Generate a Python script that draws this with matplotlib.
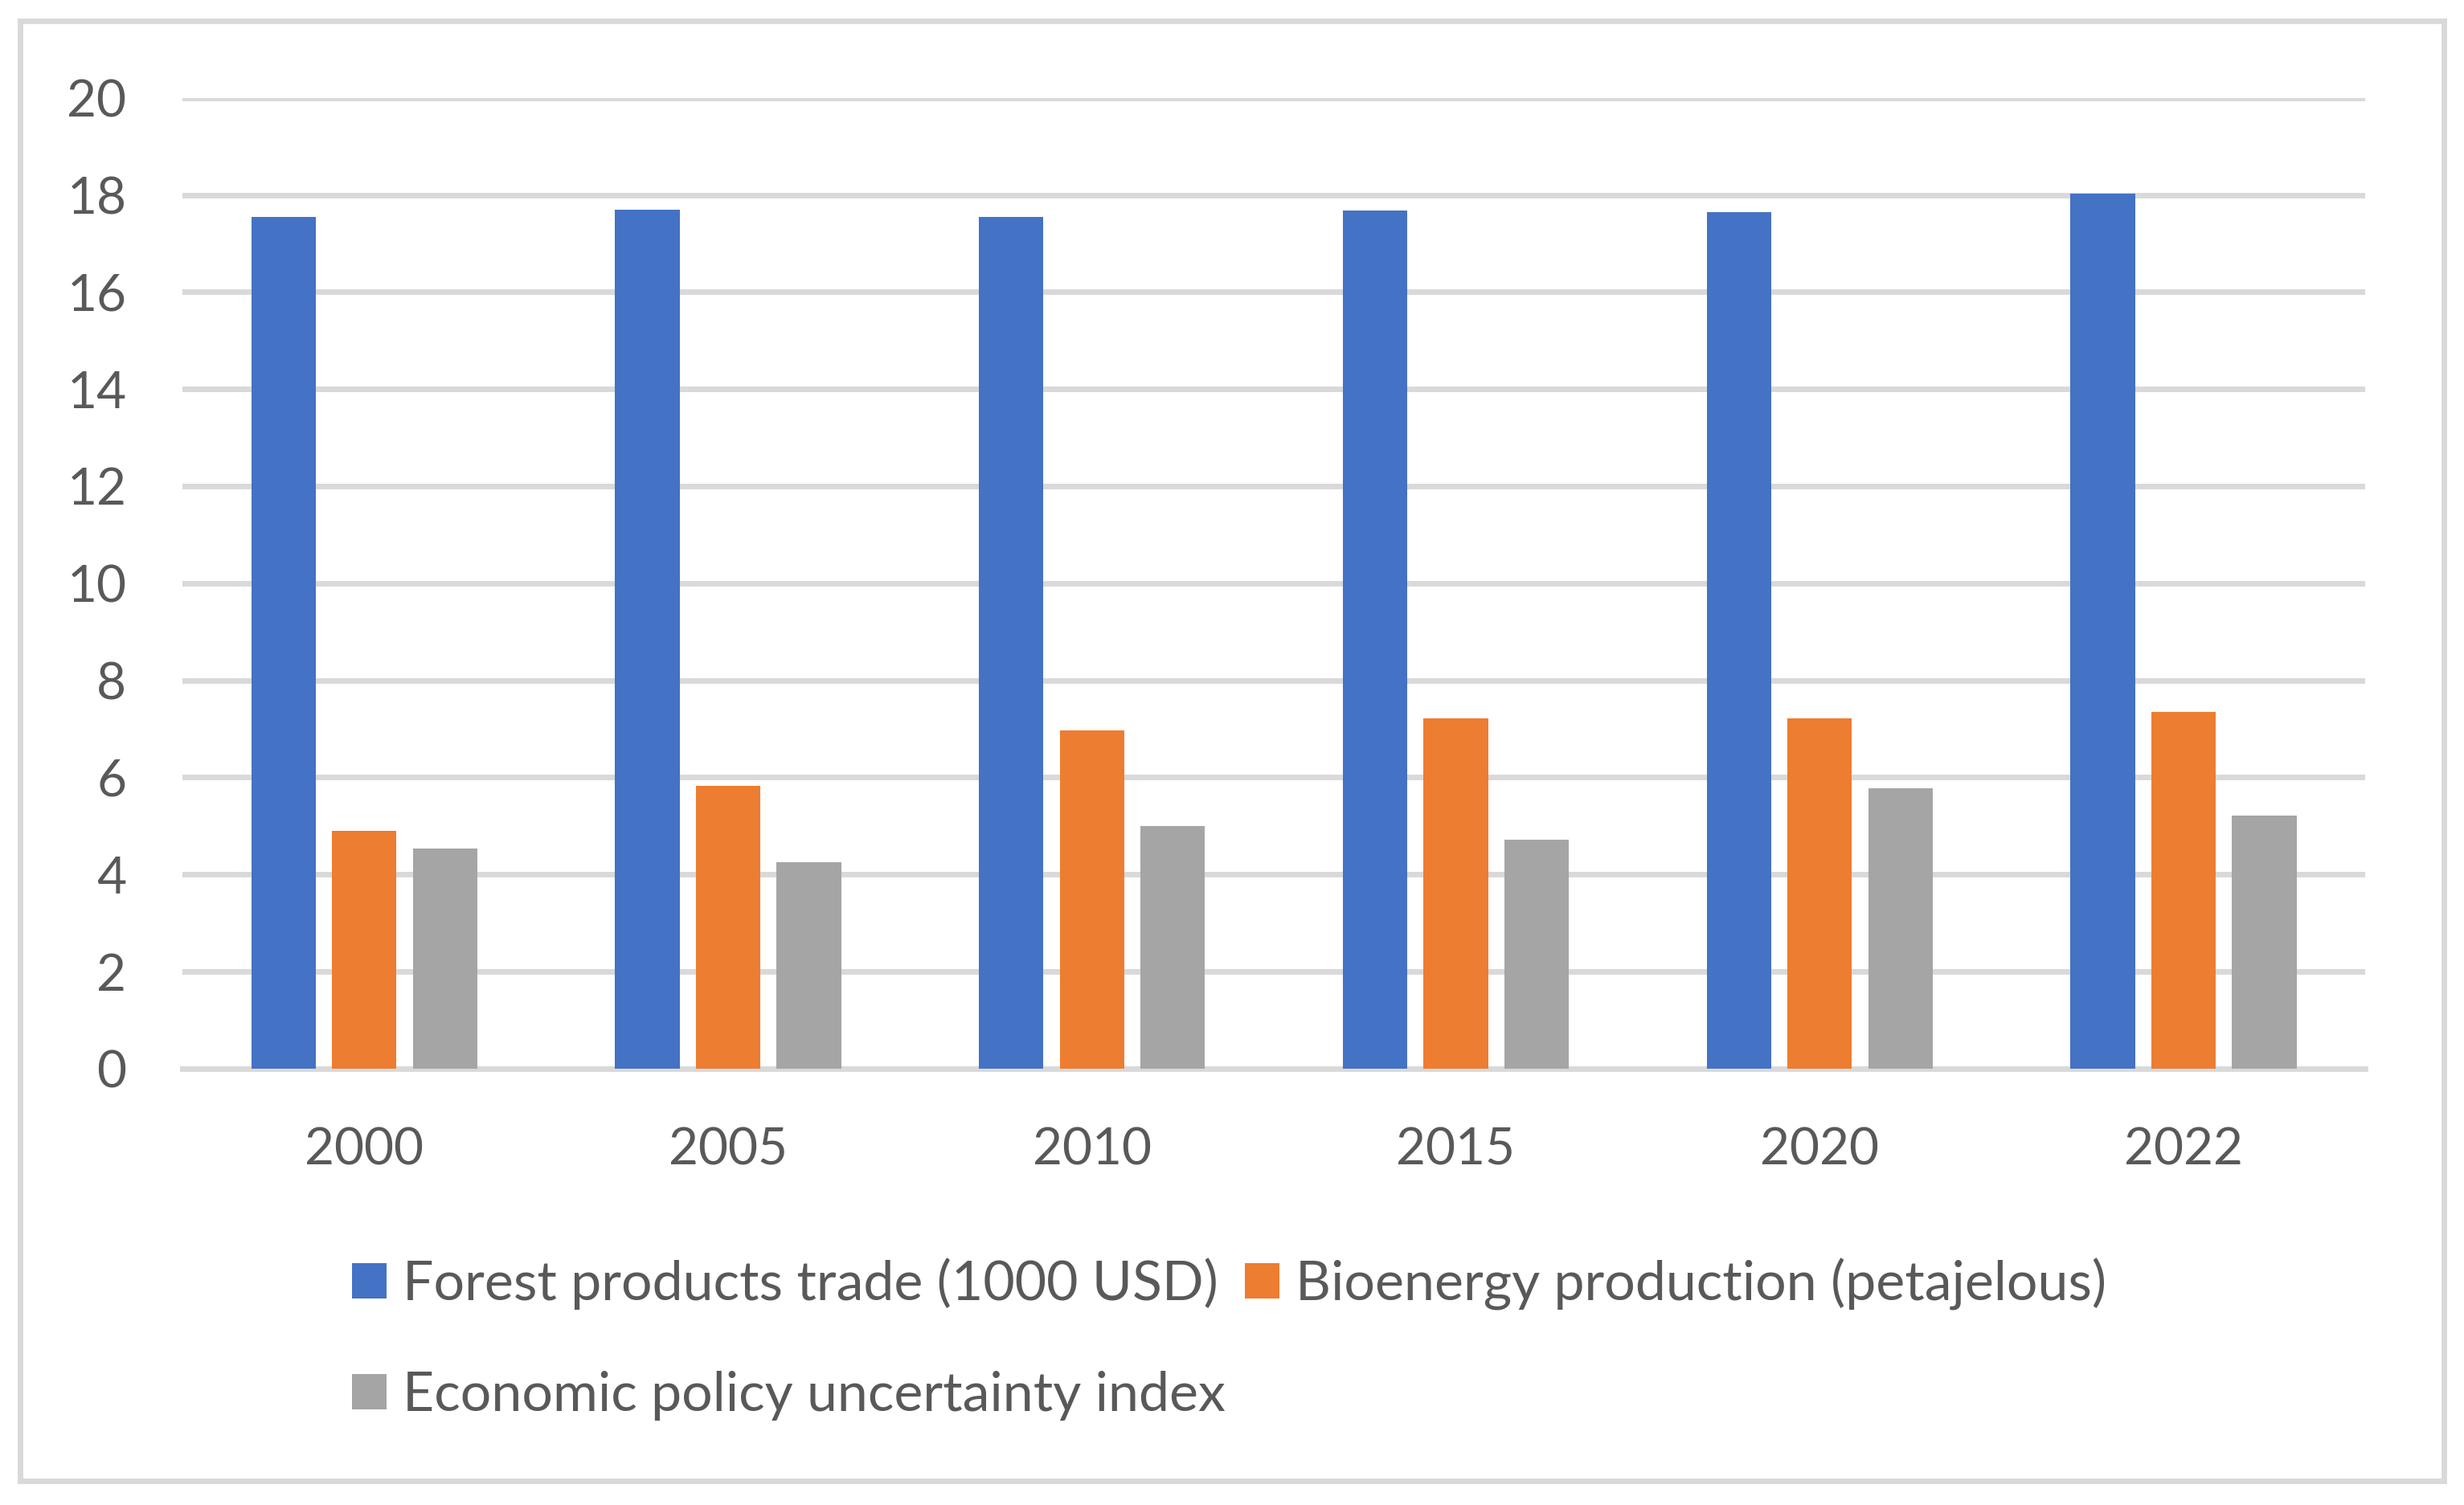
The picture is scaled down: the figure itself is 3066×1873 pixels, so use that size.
import numpy as np
import matplotlib
matplotlib.use("Agg")
import matplotlib.pyplot as plt
from matplotlib.patches import Rectangle

years = ["2000", "2005", "2010", "2015", "2020", "2022"]
forest_trade = [17.55, 17.70, 17.55, 17.68, 17.65, 18.03]
bioenergy = [4.90, 5.83, 6.97, 7.22, 7.22, 7.35]
epu_index = [4.54, 4.26, 4.99, 4.72, 5.78, 5.21]

series_names = [
    "Forest products trade (1000 USD)",
    "Bioenergy production (petajelous)",
    "Economic policy uncertainty index",
]
colors = ["#4472C4", "#ED7D31", "#A5A5A5"]
text_color = "#595959"
grid_color = "#D9D9D9"

plt.rcParams["font.family"] = ["Lato", "DejaVu Sans"]

fig = plt.figure(figsize=(30.66, 18.73), dpi=100)
ax = fig.add_axes([0.074, 0.290, 0.886, 0.645])

x = np.arange(len(years))
width = 0.177
step = 0.222
bars = []
for i, (vals, c) in enumerate(zip([forest_trade, bioenergy, epu_index], colors)):
    b = ax.bar(x + (i - 1) * step, vals, width=width, color=c, zorder=3,
               label=series_names[i])
    bars.append(b)

ax.set_xlim(-0.5, len(years) - 0.5)
ax.set_ylim(0, 20)
ax.set_yticks(np.arange(0, 21, 2))
ax.set_xticks(x)
ax.set_xticklabels(years)
ax.yaxis.grid(True, color=grid_color, linewidth=5, zorder=0)
ax.set_axisbelow(True)
for s in ["top", "right", "left"]:
    ax.spines[s].set_visible(False)
ax.spines["bottom"].set_color(grid_color)
ax.spines["bottom"].set_linewidth(5)
ax.tick_params(axis="both", length=0, labelsize=46, colors=text_color)
ax.tick_params(axis="y", pad=50)
ax.tick_params(axis="x", pad=52)

# legend: row 1 blue + orange, row 2 gray
handles = [bars[0], bars[2], bars[1]]
labels = [series_names[0], series_names[2], series_names[1]]
leg = fig.legend(handles, labels, ncol=2, loc="upper left",
                 bbox_to_anchor=(0.123, 0.197), frameon=False,
                 fontsize=49, labelcolor=text_color,
                 handlelength=0.62, handleheight=0.62, handletextpad=0.3,
                 columnspacing=0.36, labelspacing=1.12)

# outer chart border
fig.patches.append(Rectangle((0.0083, 0.016), 0.9834, 0.970,
                             transform=fig.transFigure, fill=False,
                             edgecolor=grid_color, linewidth=5))

fig.savefig("out.png", dpi=100)
